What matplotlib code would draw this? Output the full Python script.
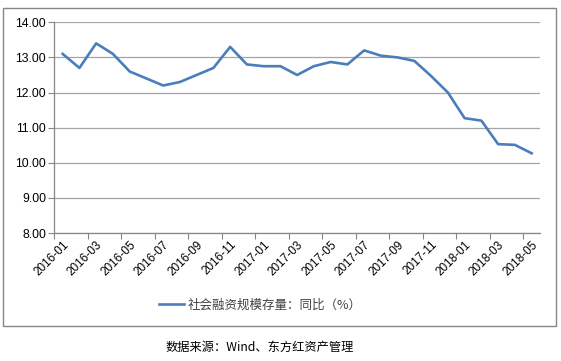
import matplotlib
matplotlib.use("Agg")
import matplotlib.pyplot as plt
from matplotlib.patches import Rectangle
from matplotlib.ticker import FixedLocator, FuncFormatter

plt.rcParams['font.family'] = ['Liberation Sans', 'Noto Sans CJK SC', 'DejaVu Sans']

# --- Data ---
months = ['2016-01', '2016-02', '2016-03', '2016-04', '2016-05', '2016-06',
          '2016-07', '2016-08', '2016-09', '2016-10', '2016-11', '2016-12',
          '2017-01', '2017-02', '2017-03', '2017-04', '2017-05', '2017-06',
          '2017-07', '2017-08', '2017-09', '2017-10', '2017-11', '2017-12',
          '2018-01', '2018-02', '2018-03', '2018-04', '2018-05']
tsf_yoy = [13.1, 12.7, 13.4, 13.1, 12.6, 12.4,
           12.2, 12.3, 12.5, 12.7, 13.3, 12.8,
           12.75, 12.75, 12.5, 12.75, 12.87, 12.8,
           13.2, 13.05, 13.0, 12.9, 12.47, 12.0,
           11.27, 11.2, 10.53, 10.51, 10.27]
series_name = '社会融资规模存量：同比（%）'
source_text = '数据来源：Wind、东方红资产管理'

W, H = 561, 361
fig = plt.figure(figsize=(W / 100, H / 100), dpi=100)

# outer chart frame
fig.patches.append(Rectangle((2.5 / W, 1 - 325.5 / H), (556 - 2.5) / W, (325.5 - 7.5) / H,
                             transform=fig.transFigure, fill=False,
                             edgecolor='#868686', linewidth=1.0))

ax = fig.add_axes([54.3 / W, 1 - 233 / H, (540 - 54.3) / W, (233 - 22.3) / H])

x = list(range(len(months)))
line, = ax.plot(x, tsf_yoy, color='#4A7EBB', linewidth=1.9, label=series_name)

ax.set_xlim(-0.5, len(months) - 0.5)
ax.set_ylim(8, 14)
ax.set_yticks([8, 9, 10, 11, 12, 13, 14])
ax.yaxis.set_major_formatter(FuncFormatter(lambda v, p: f'{v:.2f}'))
ax.yaxis.grid(True, color='#A6A6A6', linewidth=0.9)
ax.set_axisbelow(True)

# ticks sit between categories, labels at every second category
ax.xaxis.set_major_locator(FixedLocator([i - 0.5 for i in range(0, len(months) + 1, 2)]))
ax.xaxis.set_major_formatter(FuncFormatter(lambda v, p: ''))
ax.xaxis.set_minor_locator(FixedLocator(x[::2]))
ax.set_xticklabels(months[::2], minor=True, rotation=45, ha='right',
                   rotation_mode='anchor', fontsize=8.5)
ax.tick_params(axis='x', which='minor', length=0, pad=4)
ax.tick_params(axis='x', which='major', length=4, color='#868686')
ax.tick_params(axis='y', length=4, color='#868686', labelsize=8.8, pad=2)

for s in ['top', 'right']:
    ax.spines[s].set_visible(False)
for s in ['left', 'bottom']:
    ax.spines[s].set_color('#868686')
    ax.spines[s].set_linewidth(0.9)

fig.legend(handles=[line], loc='center', bbox_to_anchor=(260 / W, 1 - 305 / H),
           frameon=False, handlelength=2.0, handletextpad=0.3, labelcolor='#404040',
           prop={'family': ['Noto Sans CJK SC'], 'size': 9})

fig.text(260 / W, 1 - 347 / H, source_text, ha='center', va='center',
         fontsize=8.8, family=['Noto Sans CJK SC'])

fig.savefig('out.png', dpi=100)
